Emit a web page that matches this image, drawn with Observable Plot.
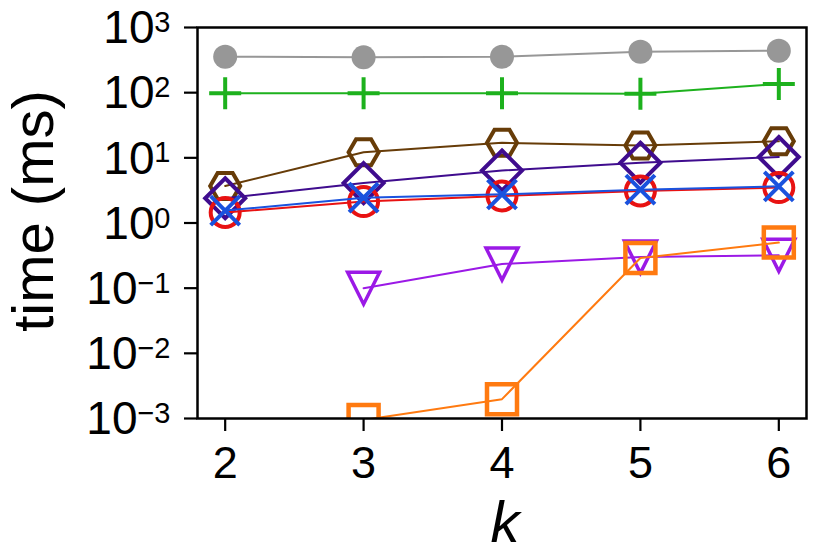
<!DOCTYPE html>
<html>
<head>
<meta charset="utf-8">
<script src="https://cdn.jsdelivr.net/npm/d3@7"></script>
<script src="https://cdn.jsdelivr.net/npm/@observablehq/plot@0.6"></script>
<style>
  html, body { margin: 0; padding: 0; background: #fff; }
  #chart svg { display: block; }
</style>
</head>
<body>
<div id="chart"></div>
<script>
// ---- data ----
const k = [2, 3, 4, 5, 6];
const grayVals   = [356, 348, 356, 425, 440];
const greenVals  = [98, 98, 98, 96, 136];
const brownVals  = [3.7, 12.2, 17.0, 15.5, 17.9];
const indigoVals = [2.4, 4.1, 6.4, 8.4, 10.3];
const redVals    = [1.45, 2.13, 2.6, 3.1, 3.5];
const blueVals   = [1.55, 2.45, 2.75, 3.25, 3.65];
const purpleVals = [null, 0.10, 0.235, 0.30, 0.32];
const orangeVals = [null, 0.00095, 0.00198, 0.29, 0.50];
const xTicks = [2, 3, 4, 5, 6];
const yExponents = [3, 2, 1, 0, -1, -2, -3];

// ---- custom marker shapes (size = r*r*PI from Plot) ----
const rad = s => Math.sqrt(s / Math.PI);
const symHexagon = { draw(c, s) { const r = rad(s);
  for (let i = 0; i < 6; i++) { const a = i * Math.PI / 3; const px = r * Math.cos(a), py = r * Math.sin(a);
    if (i === 0) c.moveTo(px, py); else c.lineTo(px, py); } c.closePath(); } };
const symDiamond = { draw(c, s) { const r = rad(s);
  c.moveTo(0, -r); c.lineTo(r, 0); c.lineTo(0, r); c.lineTo(-r, 0); c.closePath(); } };
const symTimes = { draw(c, s) { const r = rad(s);
  c.moveTo(-r, -r); c.lineTo(r, r); c.moveTo(r, -r); c.lineTo(-r, r); } };
const symPlus = { draw(c, s) { const r = rad(s);
  c.moveTo(-r, 0); c.lineTo(r, 0); c.moveTo(0, -r); c.lineTo(0, r); } };
const symSquare = { draw(c, s) { const r = rad(s);
  c.moveTo(-r, -r); c.lineTo(r, -r); c.lineTo(r, r); c.lineTo(-r, r); c.closePath(); } };
const symTriDown = { draw(c, s) { const r = rad(s);
  c.moveTo(-r, -r); c.lineTo(r, -r); c.lineTo(0, r); c.closePath(); } };
const symCircle = { draw(c, s) { const r = rad(s);
  c.moveTo(r, 0); c.arc(0, 0, r, 0, 2 * Math.PI); c.closePath(); } };

const series = [
  { vals: grayVals,   color: "#979797", sym: symCircle,  r: 12,   fill: "#979797", sw: 0 },
  { vals: greenVals,  color: "#1db11d", sym: symPlus,    r: 16,   fill: "none", sw: 4 },
  { vals: brownVals,  color: "#673c08", sym: symHexagon, r: 15,   fill: "none", sw: 4 },
  { vals: indigoVals, color: "#3f0c8e", sym: symDiamond, r: 20,   fill: "none", sw: 4 },
  { vals: redVals,    color: "#e81212", sym: symCircle,  r: 14.5, fill: "none", sw: 4 },
  { vals: blueVals,   color: "#1a52de", sym: symTimes,   r: 14.5, fill: "none", sw: 4 },
  { vals: purpleVals, color: "#9b19e6", sym: symTriDown, r: 16,   fill: "none", sw: 3.5 },
  { vals: orangeVals, color: "#ff7a10", sym: symSquare,  r: 15,   fill: "none", sw: 4.5 }
];

const marks = [];
for (const s of series) {
  const rows = k.map((kk, i) => ({ k: kk, t: s.vals[i] })).filter(d => d.t != null);
  marks.push(Plot.line(rows, { x: "k", y: "t", stroke: s.color, strokeWidth: 2, clip: true }));
  marks.push(Plot.dot(rows, { x: "k", y: "t", r: s.r, symbol: s.sym, stroke: s.color, fill: s.fill,
    strokeWidth: s.sw, strokeLinejoin: "miter", clip: true }));
}

const font = "Liberation Sans, Arial, Helvetica, sans-serif";
const yTickVals = yExponents.map(e => Math.pow(10, e));
const expStr = e => (e < 0 ? "\u2212" + (-e) : String(e));

// y tick labels as "10" + superscript exponent, one pair of text marks per tick
const labelMarks = [];
for (const e of yExponents) {
  const expW = e < 0 ? 33 : 16;
  labelMarks.push(Plot.text([e], { y: d => Math.pow(10, d), frameAnchor: "left", textAnchor: "end",
    dx: -27 - expW, text: () => "10", fontSize: 46, lineAnchor: "middle", dy: 1 }));
  labelMarks.push(Plot.text([e], { y: d => Math.pow(10, d), frameAnchor: "left", textAnchor: "end",
    dx: -27, text: d => expStr(d), fontSize: 29, lineAnchor: "top", dy: -16 }));
}

const plot = Plot.plot({
  width: 830,
  height: 554,
  marginLeft: 197,
  marginRight: 24,
  marginTop: 27,
  marginBottom: 136,
  style: { fontFamily: font, background: "#fff", color: "#000" },
  x: { domain: [1.8, 6.2] },
  y: { type: "log", domain: [1e-3, 1e3] },
  marks: [
    Plot.axisX({ ticks: xTicks, tickSize: 13, tickPadding: 15, strokeWidth: 2.2, fontSize: 45, label: null, tickFormat: d => String(d) }),
    Plot.axisY({ ticks: yTickVals, tickSize: 13, strokeWidth: 2.2, tickFormat: () => "", label: null }),
    ...labelMarks,
    ...marks,
    Plot.frame({ stroke: "#000", strokeWidth: 2.5 }),
    // axis titles
    Plot.text(["k"], { frameAnchor: "bottom", textAnchor: "middle", text: d => d, fontSize: 58, fontStyle: "italic", lineAnchor: "bottom", dy: 123, dx: 3 }),
    Plot.text(["time (ms)"], { frameAnchor: "left", textAnchor: "middle", text: d => d, fontSize: 58, rotate: -90, lineAnchor: "bottom", dx: -145, dy: -12 })
  ]
});
document.getElementById("chart").appendChild(plot);
</script>
</body>
</html>
